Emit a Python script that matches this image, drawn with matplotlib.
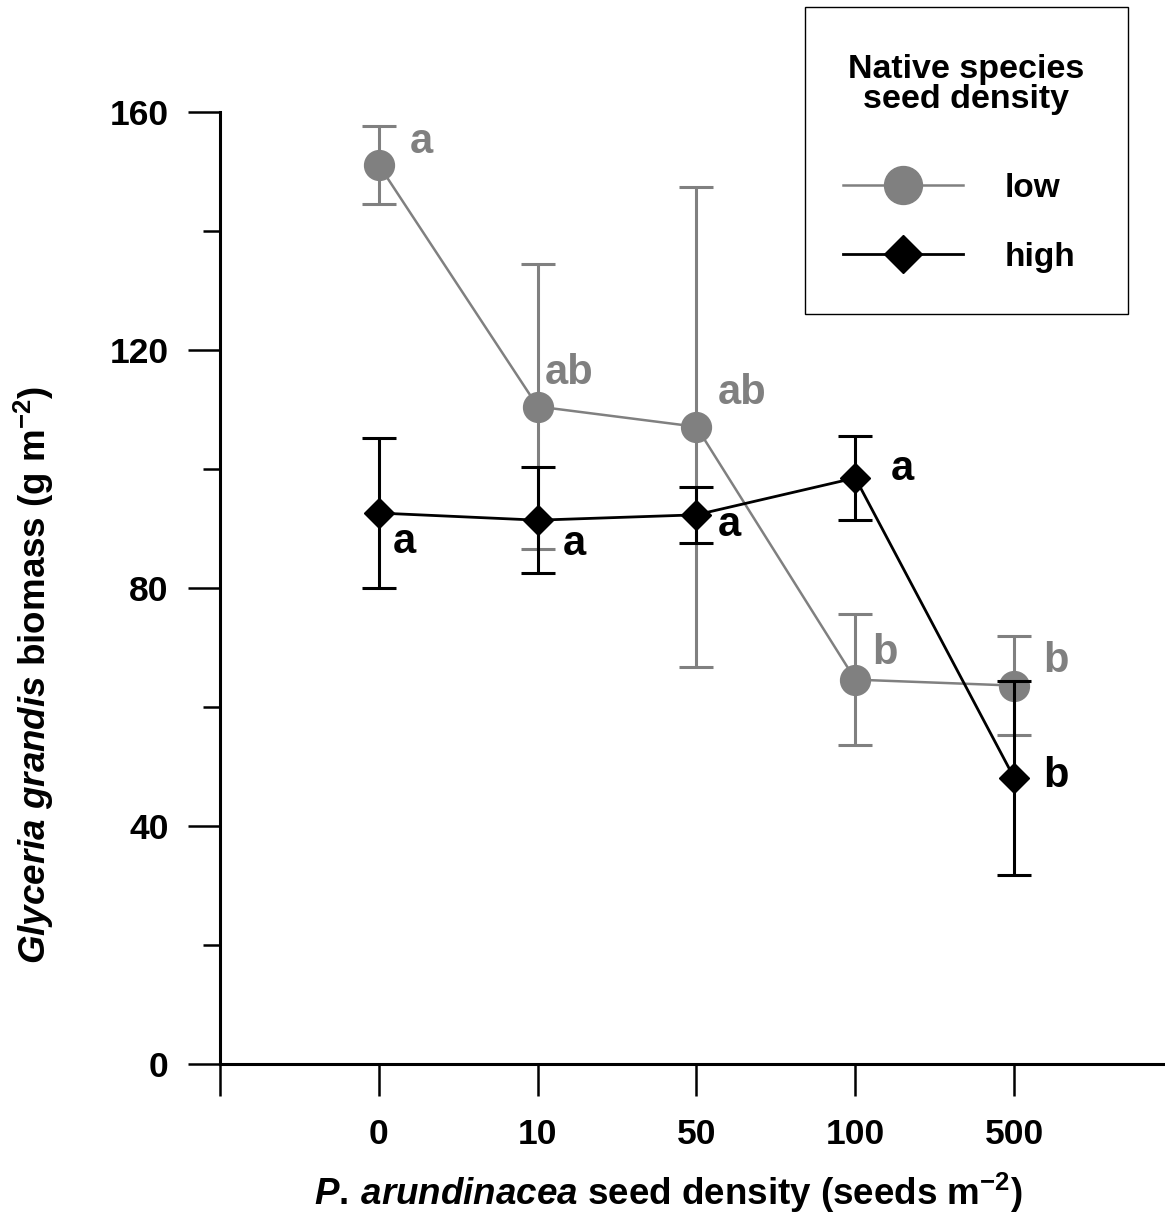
import matplotlib
matplotlib.use('Agg')
import matplotlib.pyplot as plt
from matplotlib.lines import Line2D
from matplotlib.patches import Rectangle

plt.rcParams['font.family'] = ['Liberation Sans', 'DejaVu Sans']
plt.rcParams['mathtext.fontset'] = 'custom'
plt.rcParams['mathtext.rm'] = 'Liberation Sans:bold'
plt.rcParams['mathtext.it'] = 'Liberation Sans:italic:bold'
plt.rcParams['mathtext.bf'] = 'Liberation Sans:bold'

# P. arundinacea seed density treatments (seeds m-2)
densities = ['0', '10', '50', '100', '500']

# Glyceria grandis biomass (g m-2), mean and error, low native seed density
low_mean = [151.1, 110.5, 107.1, 64.6, 63.6]
low_err = [6.6, 24.0, 40.3, 11.0, 8.3]
low_letters = ['a', 'ab', 'ab', 'b', 'b']

# same, high native seed density
high_mean = [92.6, 91.4, 92.3, 98.5, 48.1]
high_err = [12.6, 8.9, 4.7, 7.0, 16.3]
high_letters = ['a', 'a', 'a', 'a', 'b']

series_labels = ['low', 'high']
legend_title = ['Native species', 'seed density']

# letter placement (pixel offsets from each point)
low_offsets = [(31, 12), (7, 23), (21, 23), (17, 16), (29, 14)]
high_offsets = [(14, -40), (25, -35), (21, -21), (35, -2), (29, -9)]

GRAY = '#808080'
W, H = 1165, 1215
fig = plt.figure(figsize=(W / 100, H / 100), dpi=100)
ax = fig.add_axes([220 / W, (H - 1064) / H, (W - 220) / W, (1064 - 112) / H])

x = list(range(len(densities)))

ax.errorbar(x, low_mean, yerr=low_err, color=GRAY, lw=1.8, marker='o', ms=21.5,
            mfc=GRAY, mec=GRAY, elinewidth=2.2, capsize=12, capthick=2.2,
            clip_on=False, zorder=3)
ax.errorbar(x, high_mean, yerr=high_err, color='black', lw=2.0, marker='D', ms=15.5,
            mfc='black', mec='black', elinewidth=2.2, capsize=12, capthick=2.2,
            clip_on=False, zorder=4)

for i, (m, s) in enumerate(zip(low_mean, low_letters)):
    ax.annotate(s, xy=(i, m), xytext=low_offsets[i], textcoords='offset pixels',
                ha='left', va='baseline', fontsize=30, fontweight='bold', color=GRAY)
for i, (m, s) in enumerate(zip(high_mean, high_letters)):
    ax.annotate(s, xy=(i, m), xytext=high_offsets[i], textcoords='offset pixels',
                ha='left', va='baseline', fontsize=30, fontweight='bold', color='black')

ax.set_xlim(-1, 4.95)
ax.set_ylim(0, 160)
ax.set_xticks([-1] + x)
ax.set_xticklabels([''] + densities)
ax.set_yticks([0, 40, 80, 120, 160])
ax.set_yticks([20, 60, 100, 140], minor=True)

for side in ('top', 'right'):
    ax.spines[side].set_visible(False)
for side in ('left', 'bottom'):
    ax.spines[side].set_linewidth(2.2)

ax.tick_params(axis='both', which='major', direction='out', length=23, width=1.8,
               labelsize=25.5, pad=14)
ax.tick_params(axis='y', which='minor', direction='out', length=12, width=1.8)
ax.tick_params(axis='x', pad=16)
for lab in ax.get_xticklabels() + ax.get_yticklabels():
    lab.set_fontweight('bold')

fig.text(668 / W, 1 - 1193 / H,
         r'$\mathit{P.\,arundinacea}$ seed density (seeds m$^{\mathbf{-2}}$)',
         ha='center', va='center', fontsize=26.5, fontweight='bold')
fig.text(34 / W, 1 - 675 / H,
         r'$\mathit{Glyceria}$ $\mathit{grandis}$ biomass (g m$^{\mathbf{-2}}$)',
         ha='center', va='center', rotation=90, fontsize=26.5, fontweight='bold')

# legend: framed box, two-line title, then the two series
fig.patches.append(Rectangle((805 / W, 1 - 314 / H), 323 / W, 307 / H,
                             transform=fig.transFigure, fill=False,
                             ec='black', lw=1.0))
for line, base in zip(legend_title, (78, 108)):
    fig.text(966 / W, 1 - base / H, line, ha='center', va='baseline',
             fontsize=24.5, fontweight='bold')

handles = [
    Line2D([], [], color=GRAY, lw=1.8, marker='o', ms=21.5, mfc=GRAY, mec=GRAY),
    Line2D([], [], color='black', lw=2.0, marker='D', ms=15.5, mfc='black', mec='black'),
]
leg = ax.legend(handles, series_labels, loc='center left',
                bbox_to_anchor=(843 / W, 1 - 223 / H),
                bbox_transform=fig.transFigure, prop={'weight': 'bold', 'size': 24},
                frameon=False, borderpad=0, handlelength=3.6, handletextpad=1.25,
                labelspacing=1.14, borderaxespad=0, markerscale=1.27)

fig.savefig('out.png', dpi=100)
